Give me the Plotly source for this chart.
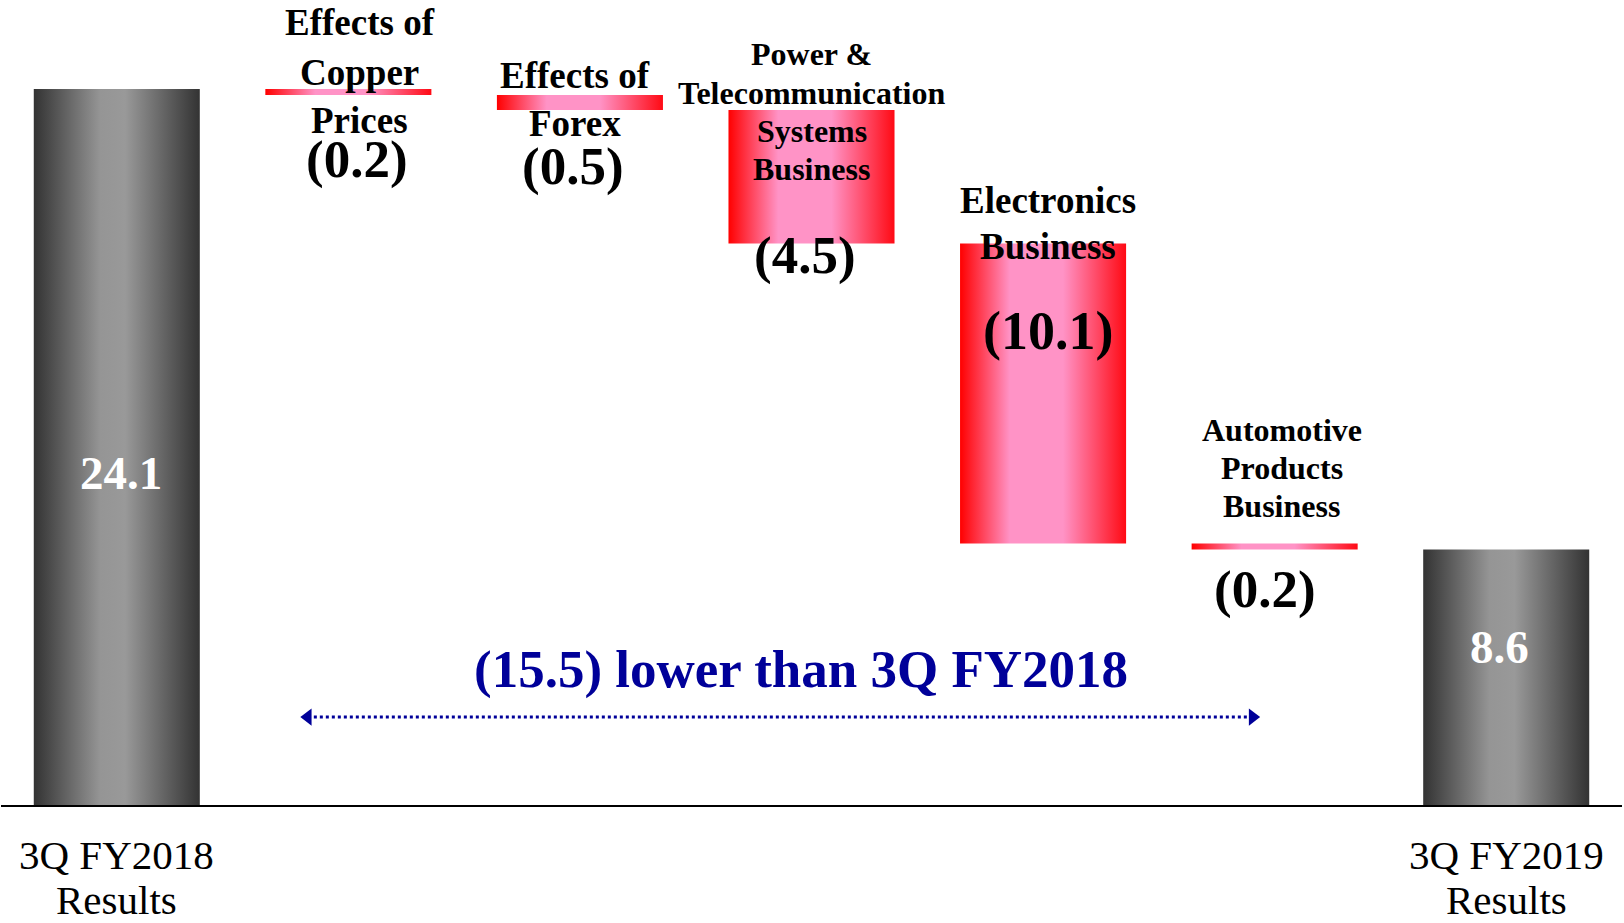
import plotly.graph_objects as go

# ---------------- data ----------------
categories = ["3Q FY2018 Results", "Effects of Copper Prices", "Effects of Forex",
              "Power & Telecommunication Systems Business", "Electronics Business",
              "Automotive Products Business", "3Q FY2019 Results"]
values = [24.1, -0.2, -0.5, -4.5, -10.1, -0.2, 8.6]
measures = ["absolute", "relative", "relative", "relative", "relative", "relative", "total"]
axis_labels = [["3Q FY2018", "Results"], [], [], [], [], [], ["3Q FY2019", "Results"]]
label_lines = [[], ["Effects of", "Copper", "Prices"], ["Effects of", "Forex"],
               ["Power &", "Telecommunication", "Systems", "Business"],
               ["Electronics", "Business"], ["Automotive", "Products", "Business"], []]
summary_value = -15.5
summary_text = "lower than 3Q FY2018"

# ---------------- style ----------------
SERIF = "Liberation Serif, Times New Roman, serif"
BAR_W = 0.717
GRAY_SCALE = [[0, "#333333"], [0.4, "#959595"], [0.55, "#999999"], [1, "#333333"]]
RED_SCALE = [[0, "#ff0000"], [0.3, "#ff93c6"], [0.62, "#ff93c6"], [1, "#ff0a14"]]
NAVY = "#000099"

# label positions (x offset from bar centre, y in axis units) and font sizes
label_style = {
    1: dict(dx=0.05, ys=[26.33, 24.66, 23.06], size=37, vdx=0.037, vy=21.74, vsize=53),
    2: dict(dx=-0.02, ys=[24.56, 22.93], size=37, vdx=-0.03, vy=21.48, vsize=53),
    3: dict(dx=0.0, ys=[25.29, 23.97, 22.68, 21.41], size=32, vdx=-0.03, vy=18.50, vsize=53),
    4: dict(dx=0.02, ys=[20.34, 18.80], size=37, vdx=0.02, vy=15.96, vsize=54),
    5: dict(dx=0.03, ys=[12.63, 11.35, 10.05], size=32, vdx=-0.04, vy=7.24, vsize=53),
}
total_label_pos = {0: dict(dx=0.02, y=11.18), 6: dict(dx=-0.03, y=5.32)}
axis_label_y = [-0.0627, -0.1175]   # paper units, below baseline

# ---------------- compute spans ----------------
spans = []
cum = 0.0
for v, m in zip(values, measures):
    if m == "absolute":
        lo, hi = 0.0, v
        cum = v
    elif m == "total":
        lo, hi = 0.0, v
    else:
        lo, hi = cum + v, cum
        cum += v
    spans.append((lo, hi))

fig = go.Figure()

for i, (cat, (lo, hi), m) in enumerate(zip(categories, spans, measures)):
    x0, x1 = i - BAR_W / 2, i + BAR_W / 2
    scale = GRAY_SCALE if m in ("absolute", "total") else RED_SCALE
    fig.add_trace(go.Scatter(
        x=[x0, x1, x1, x0, x0], y=[lo, lo, hi, hi, lo],
        mode="lines", fill="toself", line=dict(width=0),
        fillgradient=dict(type="horizontal", colorscale=scale),
        name=cat, hoverinfo="name", showlegend=False))

annotations = []
for i, v in enumerate(values):
    if i in label_style:
        st = label_style[i]
        for line, y in zip(label_lines[i], st["ys"]):
            annotations.append(dict(x=i + st["dx"], y=y, text=line, showarrow=False,
                                    xanchor="center", yanchor="middle",
                                    font=dict(family=SERIF, size=st["size"], color="black", weight="bold")))
        annotations.append(dict(x=i + st["vdx"], y=st["vy"], text=f"({abs(v):.1f})", showarrow=False,
                                xanchor="center", yanchor="middle",
                                font=dict(family=SERIF, size=st["vsize"], color="black", weight="bold")))
    else:
        p = total_label_pos[i]
        annotations.append(dict(x=i + p["dx"], y=p["y"], text=f"{v:.1f}", showarrow=False,
                                xanchor="center", yanchor="middle",
                                font=dict(family=SERIF, size=47, color="white", weight="bold")))
    for line, yp in zip(axis_labels[i], axis_label_y):
        annotations.append(dict(x=i, xref="x", y=yp, yref="paper", text=line,
                                showarrow=False, xanchor="center", yanchor="middle",
                                font=dict(family=SERIF, size=41, color="black")))

annotations.append(dict(x=2.955, y=4.55, text=f"({abs(summary_value):.1f}) {summary_text}",
                        showarrow=False, xanchor="center", yanchor="middle",
                        font=dict(family=SERIF, size=53, color=NAVY, weight="bold")))

# dotted double-headed arrow
fig.add_trace(go.Scatter(
    x=[0.825, 4.905], y=[2.96, 2.96], mode="lines+markers",
    line=dict(color=NAVY, width=3, dash="dot"),
    marker=dict(symbol=["triangle-left", "triangle-right"], size=15, color=NAVY),
    hoverinfo="skip", showlegend=False))

fig.update_layout(
    width=1624, height=923,
    margin=dict(l=1, r=2, t=0, b=118, autoexpand=False),
    paper_bgcolor="white", plot_bgcolor="white",
    showlegend=False,
    annotations=annotations,
    xaxis=dict(range=[-0.5, 6.5], showticklabels=False, showgrid=False, zeroline=False,
               showline=True, linecolor="black", linewidth=2, ticks="",
               automargin=False, fixedrange=True),
    yaxis=dict(range=[0, 27.1], visible=False, automargin=False, fixedrange=True),
)

fig.write_html("out.html", config={"displayModeBar": False},
               post_script="document.body.style.margin='0';")
